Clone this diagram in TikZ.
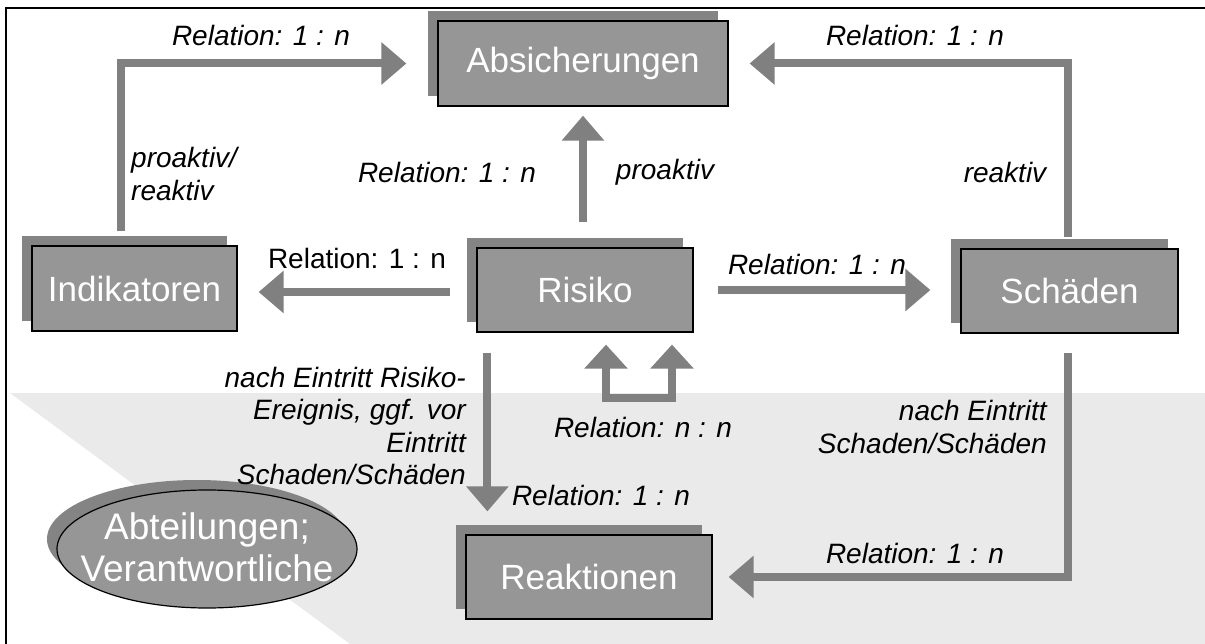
\documentclass[tikz,border=0pt]{standalone}
\usepackage{fontspec}
\setmainfont{Liberation Sans}
\usetikzlibrary{arrows.meta,shadows,shapes.geometric}
\definecolor{boxgray}{RGB}{150,150,150}
\definecolor{shadegray}{RGB}{132,132,132}
\definecolor{arrgray}{RGB}{128,128,128}
\definecolor{bglight}{RGB}{234,234,234}
\begin{document}
\begin{tikzpicture}[x=1pt,y=-1pt,
  ent/.style={draw=black, line width=1.2pt, fill=boxgray, text=white,
    font=\fontsize{35}{40}\selectfont, inner sep=0pt,
    drop shadow={shadow xshift=-10pt, shadow yshift=10pt, fill=shadegray, opacity=1, draw=none}},
  lbl/.style={font=\fontsize{28}{32.5}\selectfont\itshape, inner sep=0pt},
  arr/.style={draw=arrgray, line width=8pt, -{Triangle[length=25pt,width=41pt]}},
]
\useasboundingbox (0,0) rectangle (1205,644);
% background
\fill[bglight] (10,393) -- (1205,393) -- (1205,644) -- (350,644) -- cycle;
\draw[line width=1.2pt] (6,644) -- (6,8) -- (1205,8);

% entities
\node[ent, minimum width=290pt, minimum height=85pt] (abs) at (583,63.5) {Absicherungen};
\node[ent, minimum width=205pt, minimum height=85pt] (ind) at (134.5,288.5) {Indikatoren};
\node[ent, minimum width=216pt, minimum height=84pt] (ris) at (585,290) {Risiko};
\node[ent, minimum width=217pt, minimum height=84pt] (sch) at (1069.5,291) {Schäden};
\node[ent, minimum width=246pt, minimum height=84pt] (rea) at (589,577) {Reaktionen};
\node[ent, ellipse, minimum width=300pt, minimum height=118pt] (abt) at (207,549) {};
\node[text=white, font=\fontsize{37}{42}\selectfont, align=center, inner sep=0pt] (abttext) at ([yshift=2pt]abt.center) {Abteilungen;\\Verantwortliche};

% connectors
\draw[arr, shorten <=14pt, shorten >=31pt] ([xshift=-14pt]ind.north) |- (abs.west);
\draw[arr, shorten <=11pt, shorten >=21pt] ([xshift=-1.5pt]sch.north) |- (abs.east);
\draw[arr, shorten <=25pt, shorten >=9pt] ([xshift=-2pt]ris.north) -- ([xshift=-2pt]ris.north |- abs.south);
\draw[arr, shorten <=26pt, shorten >=21pt] ([yshift=-2pt]ris.west) -- ([yshift=-2pt]ris.west -| ind.east);
\draw[arr, shorten <=24pt, shorten >=30pt] (ris.east) -- (ris.east -| sch.west);
\draw[arr, shorten <=20pt, shorten >=23pt] ([xshift=11pt]ris.south west) -- ([xshift=11pt]ris.south west |- rea.north);
\draw[arr, shorten <=19pt, shorten >=16pt] ([xshift=-1.5pt]sch.south) |- (rea.east);
\draw[arr, {Triangle[length=24pt,width=42pt]}-{Triangle[length=24pt,width=42pt]}, shorten <=12pt, shorten >=12pt]
  ([xshift=21pt]ris.south) -- ++(0,65) -| ([xshift=87pt]ris.south);

% labels
\node[lbl] (l1) at (261,35) {Relation: 1 : n};
\node[lbl] (l2) at (915,35) {Relation: 1 : n};
\node[lbl, anchor=west, align=left] (l3) at (131,174) {proaktiv/\\reaktiv};
\node[lbl] (l4) at (447,172) {Relation: 1 : n};
\node[lbl] (l5) at (665,172) {proaktiv};
\node[lbl] (l6) at (1005,172) {reaktiv};
\node[lbl, font=\fontsize{28}{32.5}\selectfont] (l7) at (357,258) {Relation: 1 : n};
\node[lbl] (l8) at (817,264) {Relation: 1 : n};
\node[lbl, anchor=east, align=right] (l9) at (466,426) {nach Eintritt Risiko-\\Ereignis, ggf. vor\\Eintritt\\Schaden/Schäden};
\node[lbl] (l10) at (643,427) {Relation: n : n};
\node[lbl] (l11) at (601,495) {Relation: 1 : n};
\node[lbl, anchor=east, align=right] (l12) at (1047,427) {nach Eintritt\\Schaden/Schäden};
\node[lbl] (l13) at (915,553) {Relation: 1 : n};
\end{tikzpicture}
\end{document}
